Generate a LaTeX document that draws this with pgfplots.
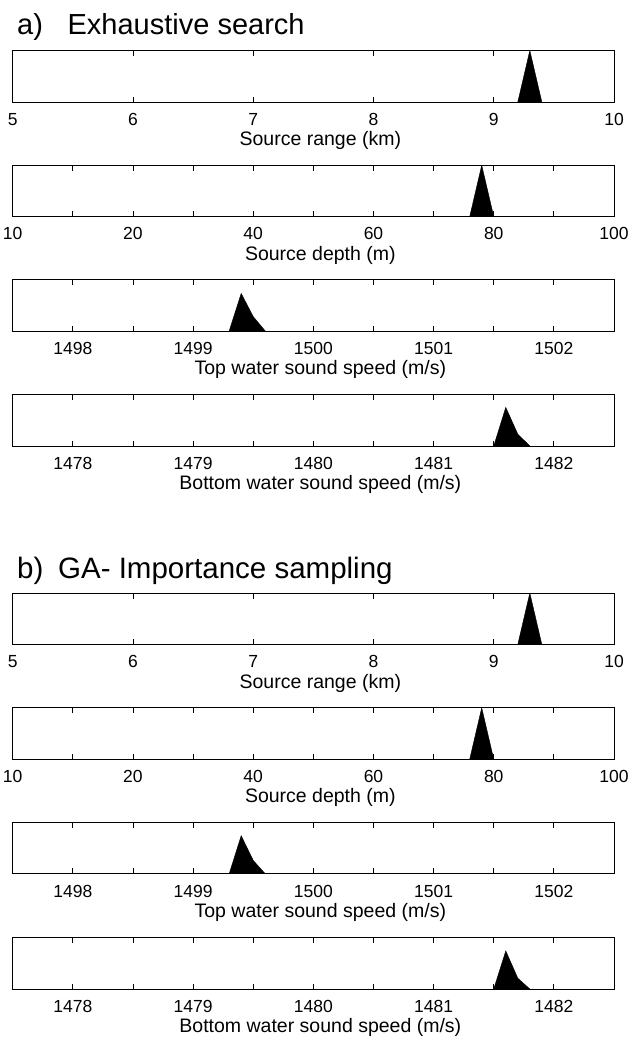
\documentclass[border=0pt]{standalone}
\usepackage{pgfplots}
\pgfplotsset{compat=1.18}
\usepackage{fontspec}
\setmainfont{Liberation Sans}
\newcommand{\tickfont}{\fontsize{17.5}{20}\selectfont}
\newcommand{\labfont}{\fontsize{19.5}{22}\selectfont}
\pgfplotsset{panel/.style={
  scale only axis, width=601.3pt, height=51.5pt,
  anchor=south west,
  ymin=0, ymax=1, ytick=\empty,
  tick align=inside, major tick length=5.5pt,
  axis line style={line width=0.9pt},
  every tick/.style={line width=0.8pt, black},
  /pgf/number format/assume math mode=true,
  xticklabel style={font=\tickfont, yshift=-7.5pt},
  every axis x label/.style={at={(axis description cs:0.5,0)}, anchor=center, yshift=-38.5pt, xshift=7pt, font=\labfont},
}}
\begin{document}
\begin{tikzpicture}
\useasboundingbox (0pt,-1041pt) rectangle (642pt,0pt);
\node[anchor=base west, inner sep=0pt, font=\fontsize{29}{34}\selectfont] at (17pt,-35pt) {a)\hspace{0.85em}Exhaustive search};
\node[anchor=base west, inner sep=0pt, font=\fontsize{29.5}{34}\selectfont] at (17pt,-578pt) {b)\hspace{0.5em}GA- Importance sampling};
% ---------- a) ----------
\begin{axis}[panel, at={(12.7pt,-102pt)}, xmin=5, xmax=10, xtick={5,6,7,8,9,10}, xticklabels={5,6,7,8,9,10}, xlabel={Source range (km)}]
\addplot[fill=black, draw=black] coordinates {(9.2,0) (9.3,1) (9.4,0)} -- cycle;
\end{axis}
\begin{axis}[panel, at={(12.7pt,-216.7pt)}, xmin=0, xmax=100, xtick={0,10,...,100}, xticklabels={10,,20,,40,,60,,80,,100}, xlabel={Source depth (m)}]
\addplot[fill=black, draw=black] coordinates {(76,0) (78,1) (80,0)} -- cycle;
\end{axis}
\begin{axis}[panel, at={(12.7pt,-331pt)}, xmin=1497.5, xmax=1502.5, xtick={1498,1498.5,...,1502}, xticklabels={1498,,1499,,1500,,1501,,1502}, xlabel={Top water sound speed (m/s)}]
\addplot[fill=black, draw=black] coordinates {(1499.3,0) (1499.4,0.73) (1499.5,0.28) (1499.6,0)} -- cycle;
\end{axis}
\begin{axis}[panel, at={(12.7pt,-446pt)}, xmin=1477.5, xmax=1482.5, xtick={1478,1478.5,...,1482}, xticklabels={1478,,1479,,1480,,1481,,1482}, xlabel={Bottom water sound speed (m/s)}]
\addplot[fill=black, draw=black] coordinates {(1481.5,0) (1481.6,0.75) (1481.7,0.23) (1481.8,0)} -- cycle;
\end{axis}
% ---------- b) ----------
\begin{axis}[panel, at={(12.7pt,-644.5pt)}, xmin=5, xmax=10, xtick={5,6,7,8,9,10}, xticklabels={5,6,7,8,9,10}, xlabel={Source range (km)}]
\addplot[fill=black, draw=black] coordinates {(9.2,0) (9.3,1) (9.4,0)} -- cycle;
\end{axis}
\begin{axis}[panel, at={(12.7pt,-759.3pt)}, xmin=0, xmax=100, xtick={0,10,...,100}, xticklabels={10,,20,,40,,60,,80,,100}, xlabel={Source depth (m)}]
\addplot[fill=black, draw=black] coordinates {(76,0) (78,1) (80,0)} -- cycle;
\end{axis}
\begin{axis}[panel, at={(12.7pt,-873.8pt)}, xmin=1497.5, xmax=1502.5, xtick={1498,1498.5,...,1502}, xticklabels={1498,,1499,,1500,,1501,,1502}, xlabel={Top water sound speed (m/s)}]
\addplot[fill=black, draw=black] coordinates {(1499.3,0) (1499.4,0.74) (1499.5,0.26) (1499.6,0)} -- cycle;
\end{axis}
\begin{axis}[panel, at={(12.7pt,-989pt)}, xmin=1477.5, xmax=1482.5, xtick={1478,1478.5,...,1482}, xticklabels={1478,,1479,,1480,,1481,,1482}, xlabel={Bottom water sound speed (m/s)}]
\addplot[fill=black, draw=black] coordinates {(1481.5,0) (1481.6,0.74) (1481.7,0.21) (1481.8,0)} -- cycle;
\end{axis}
\end{tikzpicture}
\end{document}
